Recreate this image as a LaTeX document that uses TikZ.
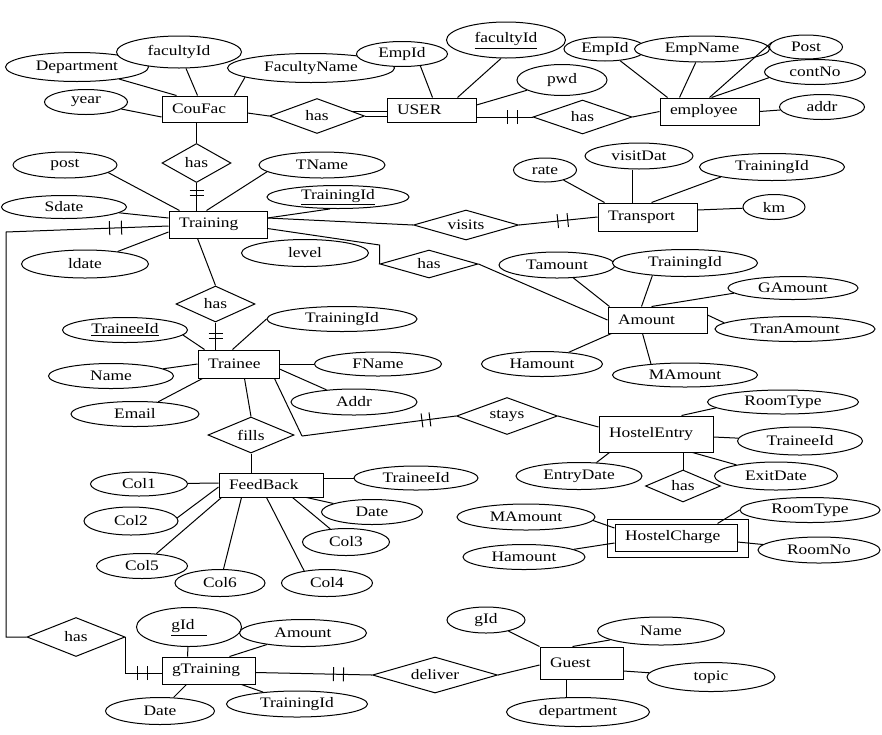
\documentclass[tikz,border=0pt]{standalone}
\usepackage{fontspec}
\setmainfont{Liberation Serif}[FakeStretch=1.2]
\usetikzlibrary{shapes.geometric,decorations.markings,calc}
\tikzset{
 ent/.style={draw, fill=white, rectangle, inner xsep=10pt, inner ysep=0pt, align=left},
 att/.style={draw, fill=white, ellipse, inner sep=0pt},
 rel/.style={draw, fill=white, diamond, inner sep=0pt, aspect=2.5},
 bars/.style 2 args={postaction={decorate, decoration={markings,
   mark=at position #1 with {\draw[line width=1pt] (0pt,-7pt) -- (0pt,7pt);},
   mark=at position #2 with {\draw[line width=1pt] (0pt,-7pt) -- (0pt,7pt);}}}}
}
\begin{document}
\begin{tikzpicture}[x=1pt,y=-1pt, line width=1pt,
 every node/.style={font=\fontsize{14.5pt}{16pt}\selectfont}]
\fill[white] (0,0) rectangle (882,734);
\useasboundingbox (0,0) rectangle (882,734);

% entities
\node[ent, text width=65pt, minimum height=26pt] (CouFac) at (204.5,109) {CouFac};
\node[ent, text width=69pt, minimum height=24pt] (USER) at (431.5,110) {USER};
\node[ent, text width=79pt, minimum height=27pt] (employee) at (709.5,111.5) {employee};
\node[ent, text width=78pt, minimum height=27pt] (Training) at (218,224.5) {Training};
\node[ent, text width=79pt, minimum height=28pt] (Transport) at (647.5,217) {Transport};
\node[ent, text width=79pt, minimum height=26pt] (Amount) at (657.5,320) {Amount};
\node[ent, text width=61pt, minimum height=28pt] (Trainee) at (238.5,364) {Trainee};
\node[ent, text width=94pt, minimum height=36pt] (HostelEntry) at (656,434) {HostelEntry};
\node[ent, text width=84pt, minimum height=24pt] (FeedBack) at (271,485) {FeedBack};
\node[ent, text width=102pt, minimum height=27pt] (HostelCharge) at (676,537.5) {HostelCharge};
\draw ([shift={(-7pt,4pt)}]HostelCharge.north west) rectangle ([shift={(11pt,-6pt)}]HostelCharge.south east);
\node[ent, text width=73pt, minimum height=27pt] (gTraining) at (208.5,670.5) {gTraining};
\node[ent, text width=63pt, minimum height=32pt] (Guest) at (581.5,663) {Guest};

% relationships
\node[rel, minimum width=69pt, minimum height=39pt] (has1) at (196.5,163) {has};
\node[rel, minimum width=95pt, minimum height=35pt] (hasU) at (317,116) {has};
\node[rel, minimum width=99pt, minimum height=34pt] (hasE) at (582.5,117) {has};
\node[rel, minimum width=105pt, minimum height=30pt] (visits) at (466,225) {visits};
\node[rel, minimum width=98pt, minimum height=28pt] (hasA) at (429,264) {has};
\node[rel, minimum width=79pt, minimum height=36pt] (has2) at (215.5,304) {has};
\node[rel, minimum width=86pt, minimum height=36pt] (fills) at (251,435) {fills};
\node[rel, minimum width=101pt, minimum height=37pt] (stays) at (507,416) {stays};
\node[rel, minimum width=98pt, minimum height=39pt] (hasG) at (76,637) {has};
\node[rel, minimum width=125pt, minimum height=36pt] (deliver) at (435,675) {deliver};

% attributes
\node[att, minimum width=143pt, minimum height=29pt] (Department) at (77,67) {Department};
\node[att, minimum width=125pt, minimum height=32pt] (facultyId) at (179,52) {facultyId};
\node[att, minimum width=167pt, minimum height=29pt] (FacultyName) at (311,68) {FacultyName};
\node[att, minimum width=83pt, minimum height=25pt] (year) at (86,102) {year};
\node[att, minimum width=91pt, minimum height=25pt] (EmpId) at (402,54) {EmpId};
\node[att, minimum width=119pt, minimum height=36pt] (facultyIdU) at (506,40) {\underline{\strut facultyId}};
\node[att, minimum width=90pt, minimum height=31pt] (pwd) at (562,80) {pwd};
\node[att, minimum width=82pt, minimum height=24pt] (EmpIdE) at (605,49) {EmpId};
\node[att, minimum width=135pt, minimum height=26pt] (EmpName) at (702,49) {EmpName};
\node[att, minimum width=73pt, minimum height=24pt] (Post) at (806,47) {Post};
\node[att, minimum width=101pt, minimum height=25pt] (contNo) at (815,72) {contNo};
\node[att, minimum width=85pt, minimum height=25pt] (addr) at (822,107) {addr};

\node[att, minimum width=104pt, minimum height=26pt] (post) at (65,165) {post};
\node[att, minimum width=126pt, minimum height=26pt] (TName) at (322,165) {TName};
\node[att, minimum width=142pt, minimum height=23pt] (TrainingIdT) at (338,197) {\underline{TrainingId}};
\node[att, minimum width=125pt, minimum height=23pt] (Sdate) at (64,207) {Sdate};
\node[att, minimum width=127pt, minimum height=28pt] (ldate) at (85,264) {ldate};
\node[att, minimum width=127pt, minimum height=27pt] (level) at (305,253) {level};

\node[att, minimum width=63pt, minimum height=24pt] (rate) at (545,170) {rate};
\node[att, minimum width=108pt, minimum height=26pt] (visitDat) at (639,156) {visitDat};
\node[att, minimum width=145pt, minimum height=27pt] (TrainingIdTr) at (772,167) {TrainingId};
\node[att, minimum width=62pt, minimum height=25pt] (km) at (774,207) {km};

\node[att, minimum width=116pt, minimum height=26pt] (Tamount) at (557,265) {Tamount};
\node[att, minimum width=145pt, minimum height=27pt] (TrainingIdA) at (685,263) {TrainingId};
\node[att, minimum width=130pt, minimum height=23pt] (GAmount) at (793,288) {GAmount};
\node[att, minimum width=160pt, minimum height=25pt] (TranAmount) at (795,329) {TranAmount};
\node[att, minimum width=121pt, minimum height=25pt] (HamountA) at (542,364) {Hamount};
\node[att, minimum width=145pt, minimum height=24pt] (MAmountA) at (685,375) {MAmount};

\node[att, minimum width=125pt, minimum height=25pt] (TraineeId) at (125,330) {\underline{TraineeId}};
\node[att, minimum width=150pt, minimum height=25pt] (TrainingIdTe) at (342,319) {TrainingId};
\node[att, minimum width=125pt, minimum height=25pt] (Name) at (111,376) {Name};
\node[att, minimum width=127pt, minimum height=24pt] (FName) at (378,364) {FName};
\node[att, minimum width=128pt, minimum height=25pt] (Email) at (135,414) {Email};
\node[att, minimum width=126pt, minimum height=26pt] (Addr) at (354,402) {Addr};

\node[att, minimum width=97pt, minimum height=24pt] (Col1) at (139,484) {Col1};
\node[att, minimum width=124pt, minimum height=24pt] (TraineeIdF) at (416,478) {TraineeId};
\node[att, minimum width=101pt, minimum height=25pt] (Date) at (372,512) {Date};
\node[att, minimum width=94pt, minimum height=28pt] (Col2) at (131,521) {Col2};
\node[att, minimum width=87pt, minimum height=27pt] (Col3) at (346,542) {Col3};
\node[att, minimum width=91pt, minimum height=25pt] (Col5) at (142,566) {Col5};
\node[att, minimum width=90pt, minimum height=27pt] (Col6) at (220,583) {Col6};
\node[att, minimum width=91pt, minimum height=27pt] (Col4) at (327,583) {Col4};

\node[att, minimum width=151pt, minimum height=24pt] (RoomType) at (783,402) {RoomType};
\node[att, minimum width=125pt, minimum height=28pt] (TraineeIdH) at (800,441) {TraineeId};
\node[att, minimum width=126pt, minimum height=27pt] (EntryDate) at (579,476) {EntryDate};
\node[att, minimum width=123pt, minimum height=28pt] (ExitDate) at (776,476) {ExitDate};
\node[rel, fill=none, minimum width=75pt, minimum height=32pt] (hasH) at (683,486) {has};

\node[att, minimum width=138pt, minimum height=26pt] (MAmountH) at (526,517) {MAmount};
\node[att, minimum width=122pt, minimum height=25pt] (HamountH) at (524,557) {Hamount};
\node[att, minimum width=140pt, minimum height=25pt] (RoomType2) at (810,510) {RoomType};
\node[att, minimum width=122pt, minimum height=26pt] (RoomNo) at (819,550) {RoomNo};

\node[att, minimum width=105pt, minimum height=39pt] (gId) at (189,627) {\underline{\strut gId\hspace{12pt}}\hspace{20pt}};
\node[att, minimum width=127pt, minimum height=27pt] (AmountG) at (303,633) {Amount};
\node[att, minimum width=109pt, minimum height=27pt] (DateG) at (160,711) {Date};
\node[att, minimum width=141pt, minimum height=26pt] (TrainingIdG) at (297,704) {TrainingId};

\node[att, minimum width=78pt, minimum height=26pt] (gIdGu) at (486,620) {gId};
\node[att, minimum width=127pt, minimum height=28pt] (NameGu) at (661,631) {Name};
\node[att, minimum width=128pt, minimum height=29pt] (topic) at (711,677) {topic};
\node[att, minimum width=143pt, minimum height=29pt] (department) at (578,712) {department};

% CouFac
\draw (Department) -- ([xshift=15pt]CouFac.north west);
\draw (facultyId) -- ([xshift=36pt]CouFac.north west);
\draw (FacultyName.188) -- ([xshift=73pt]CouFac.north west);
\draw (year) -- ([yshift=-8pt]CouFac.west);
\draw ([yshift=-4pt]CouFac.east) -- (hasU.west);
\coordinate (hu1) at ($(hasU.north)!0.75!(hasU.east)$);
\draw (hu1) -- (hu1 -| USER.west);
\draw (hasU.east) -- (hasU.east -| USER.west);
% USER
\draw (EmpId.327) -- ([xshift=46pt]USER.north west);
\draw (facultyIdU.255) -- ([xshift=71pt]USER.north west);
\draw (pwd) -- ([yshift=5pt]USER.east);
\draw[bars={31pt}{41pt}] ([yshift=-7pt]USER.east) -- (hasE.west);
\draw (hasE.east) -- (employee.west);
% employee
\draw (EmpIdE) -- ([xshift=8pt]employee.north west);
\draw (EmpName) -- ([xshift=20pt]employee.north west);
\draw (Post.172) -- ([xshift=50pt]employee.north west);
\draw (contNo.187) -- ([xshift=52pt]employee.north west);
\draw (addr) -- (employee.east);
% Training
\draw (has1.north |- CouFac.south) -- (has1.north);
\draw[bars={7.5pt}{12.5pt}] (has1.south) -- (has1.south |- Training.north);
\draw (post.350) -- ([xshift=11pt]Training.north west);
\draw (TName.187) -- ([xshift=38pt]Training.north west);
\draw (TrainingIdT.236) -- ([yshift=6.5pt]Training.east);
\draw (Sdate) -- ([yshift=6.5pt]Training.west);
\draw (ldate) -- ([yshift=-7.5pt]Training.west);
\coordinate (L1) at (6,232);
\draw[bars={47pt}{59pt}] ([yshift=-1.5pt]Training.west) -- (L1) -- (L1 |- hasG.west) -- (hasG.west);
\draw ([yshift=6.5pt]Training.east) -- (visits.west);
\draw[bars={39pt}{49pt}] (visits.east) -- (Transport.west);
\coordinate (A1) at ([yshift=19pt]hasA.west);
\draw ([yshift=-4pt]Training.east) -- (A1) -- (hasA.west);
\draw (hasA.east) -- (Amount.west);
\draw ([xshift=29pt]Training.south west) -- (has2.north);
\draw[bars={11pt}{16pt}] (has2.south) -- (has2.south |- Trainee.north);
% Transport
\draw (rate) -- ([xshift=7pt]Transport.north west);
\coordinate (vd) at ([xshift=-7pt]visitDat.south);
\draw (vd) -- (vd |- Transport.north);
\draw (TrainingIdTr.191) -- ([xshift=54pt]Transport.north west);
\draw (km) -- ([yshift=7pt]Transport.east);
% Amount
\draw (Tamount) -- ([xshift=2pt]Amount.north west);
\draw (TrainingIdA.201) -- ([xshift=34pt]Amount.north west);
\draw (GAmount.185) -- ([xshift=44pt]Amount.north west);
\draw (TranAmount.175) -- ([yshift=5pt]Amount.east);
\draw (HamountA) -- ([xshift=4pt]Amount.south west);
\draw (MAmountA.162) -- ([xshift=35pt]Amount.south west);
% Trainee
\draw (TraineeId.355) -- ([xshift=7pt]Trainee.north west);
\draw (TrainingIdTe.180) -- ([xshift=35pt]Trainee.north west);
\draw (Name) -- (Trainee.west);
\draw (FName) -- (Trainee.east);
\draw (Email) -- ([xshift=5pt]Trainee.south west);
\draw (Addr) -- ([yshift=-5pt]Trainee.east);
\draw ([xshift=47pt]Trainee.south west) -- (fills.north);
\draw (fills.south) -- (fills.south |- FeedBack.north);
\coordinate (S1) at (302,436);
\draw ([xshift=77pt]Trainee.south west) -- (S1);
\draw[bars={121pt}{129pt}] (S1) -- (stays.west);
\draw (stays.east) -- ([yshift=7pt]HostelEntry.west);
% FeedBack
\draw (Col1) -- ([yshift=2pt]FeedBack.west);
\draw (TraineeIdF) -- ([yshift=7pt]FeedBack.east);
\draw (Date) -- ([xshift=88pt]FeedBack.south west);
\draw (Col2.4) -- ([yshift=-2pt]FeedBack.west);
\draw (Col5) -- ([xshift=3pt]FeedBack.south west);
\draw (Col6) -- ([xshift=23pt]FeedBack.south west);
\draw (Col4.152) -- ([xshift=48pt]FeedBack.south west);
\draw (Col3) -- ([xshift=74pt]FeedBack.south west);
% HostelEntry
\draw (RoomType.185) -- ([xshift=83pt]HostelEntry.north west);
\draw (TraineeIdH) -- ([yshift=-3pt]HostelEntry.east);
\draw (EntryDate) -- ([xshift=11pt]HostelEntry.south west);
\draw (ExitDate) -- ([xshift=94pt]HostelEntry.south west);
\draw (hasH.north |- HostelEntry.south) -- (hasH.north);
% HostelCharge
\draw (MAmountH.357) -- ([yshift=9.5pt]HostelCharge.west);
\draw (HamountH) -- ([yshift=-5.5pt]HostelCharge.west);
\draw (RoomType2.180) -- ([xshift=103pt]HostelCharge.north west);
\draw (RoomNo) -- ([yshift=-4.5pt]HostelCharge.east);
% gTraining
\draw[bars={48pt}{58pt}] (hasG.east) |- ([yshift=-2.5pt]gTraining.west);
\draw[bars={78pt}{88pt}] ([yshift=-2pt]gTraining.east) -- (deliver.west);
\draw (deliver.east) -- ([yshift=-2pt]Guest.west);
\draw (gId) -- ([xshift=26pt]gTraining.north west);
\draw (AmountG) -- ([xshift=68pt]gTraining.north west);
\draw (DateG) -- ([xshift=25pt]gTraining.south west);
\draw (TrainingIdG) -- ([xshift=80pt]gTraining.south west);
% Guest
\draw (gIdGu) -- (Guest.north west);
\draw (NameGu) -- ([xshift=33pt]Guest.north west);
\draw (topic) -- ([yshift=-8pt]Guest.east);
\coordinate (gd) at ([xshift=27pt]Guest.south west);
\draw (gd) -- (gd |- department.north);
\end{tikzpicture}
\end{document}
